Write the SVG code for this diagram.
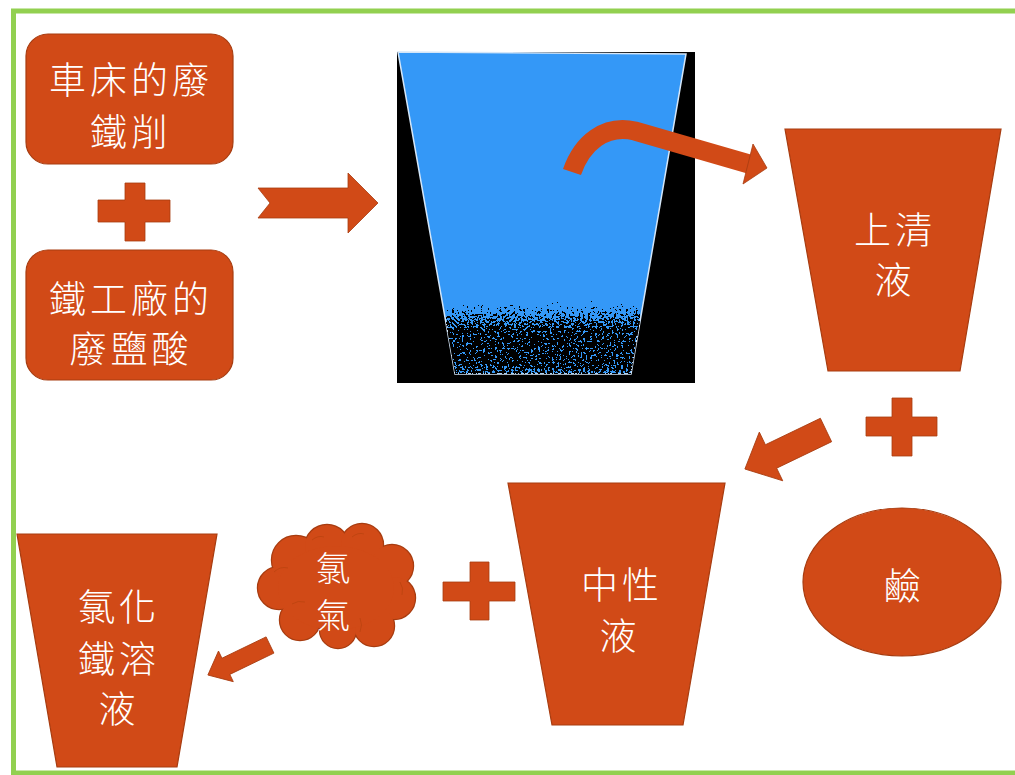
<svg xmlns="http://www.w3.org/2000/svg" width="1015" height="775" viewBox="0 0 1015 775">
  <defs>
    <style>
      .shape { fill: #D14A17; stroke: #A73C10; stroke-width: 1.2; }
      .plus { fill: #D14A17; stroke: #A73C10; stroke-width: 0.8; }
      .arrow { fill: #D14A17; stroke: #A73C10; stroke-width: 0.8; }
      .label { fill: #FFFFFF; font-family: "Noto Sans CJK TC", "Noto Sans CJK SC", sans-serif; font-size: 37px; font-weight: 300; text-anchor: middle; dominant-baseline: central; }
      .small { font-size: 34px; }
    </style>
    <linearGradient id="sedimentFade" x1="0" y1="0" x2="0" y2="1">
      <stop offset="0" stop-color="#000" stop-opacity="0"/>
      <stop offset="0.2" stop-color="#000" stop-opacity="0.55"/>
      <stop offset="0.45" stop-color="#000" stop-opacity="1"/>
      <stop offset="0.85" stop-color="#000" stop-opacity="1"/>
      <stop offset="1" stop-color="#000" stop-opacity="0.75"/>
    </linearGradient>
    <!-- grainy iron filings: thresholded noise, denser toward the bottom -->
    <filter id="grit" x="0" y="0" width="1" height="1" color-interpolation-filters="sRGB">
      <feTurbulence type="fractalNoise" baseFrequency="0.42" numOctaves="3" seed="5" result="noise"/>
      <feColorMatrix in="noise" type="matrix" values="0 0 0 0 0  0 0 0 0 0  0 0 0 0 0  1 0 0 0 0" result="noiseAlpha"/>
      <feComposite in="noiseAlpha" in2="SourceAlpha" operator="arithmetic" k1="0" k2="1" k3="0.6" k4="-0.47" result="sum"/>
      <feComponentTransfer in="sum">
        <feFuncA type="discrete" tableValues="0 1"/>
      </feComponentTransfer>
    </filter>
    <clipPath id="beakerClip">
      <polygon points="398,52 686,54 631,374 455,374"/>
    </clipPath>
    <!-- ragged upper edge of the settled filings -->
    <clipPath id="pileClip">
      <path d="M446,310 L458,300 L470,304 L482,296 L496,303 L510,299 L524,306 L540,301 L556,296 L570,292 L582,298 L596,302 L610,297 L624,301 L640,306 L640,380 L446,380 Z"/>
    </clipPath>
  </defs>

  <!-- page frame -->
  <rect x="13.5" y="11" width="1030" height="762" fill="#FFFFFF" stroke="#92D050" stroke-width="5"/>

  <!-- lathe scrap -->
  <g id="node-scrap">
    <rect class="shape" x="26" y="34" width="207" height="130" rx="22" ry="22"/>
    <text class="label" x="131" y="78" letter-spacing="4">車床的廢</text>
    <text class="label" x="131" y="130" letter-spacing="4">鐵削</text>
  </g>

  <!-- waste hydrochloric acid -->
  <g id="node-acid">
    <rect class="shape" x="26" y="250" width="207" height="130" rx="22" ry="22"/>
    <text class="label" x="131" y="297" letter-spacing="4">鐵工廠的</text>
    <text class="label" x="131" y="347" letter-spacing="4">廢鹽酸</text>
  </g>

  <!-- reaction beaker -->
  <g id="node-beaker">
    <rect x="397" y="52" width="298" height="331" fill="#000000"/>
    <polygon points="398,52 686,54 631,374 455,374" fill="#3498F7" stroke="#D4E6F8" stroke-width="1.5"/>
    <g clip-path="url(#beakerClip)">
      <g clip-path="url(#pileClip)">
        <rect x="446" y="294" width="194" height="82" fill="url(#sedimentFade)" filter="url(#grit)"/>
      </g>
    </g>
  </g>

  <!-- supernatant -->
  <g id="node-supernatant">
    <polygon class="shape" points="785,129 1001,129 960,371 828,371"/>
    <text class="label" x="895" y="228" letter-spacing="4">上清</text>
    <text class="label" x="893" y="278">液</text>
  </g>

  <!-- alkali -->
  <g id="node-alkali">
    <ellipse class="shape" cx="902" cy="582" rx="99" ry="74"/>
    <text class="label" x="902" y="584">鹼</text>
  </g>

  <!-- neutral solution -->
  <g id="node-neutral">
    <polygon class="shape" points="508,483 725,483 683,725 552,725"/>
    <text class="label" x="622" y="583" letter-spacing="4">中性</text>
    <text class="label" x="618" y="634">液</text>
  </g>

  <!-- chlorine gas -->
  <g id="node-chlorine">
    <g stroke="#A73C10" stroke-width="2.4" fill="#D14A17">
      <circle cx="279" cy="588" r="21"/>
      <circle cx="296" cy="560" r="24"/>
      <circle cx="327" cy="547" r="22"/>
      <circle cx="362" cy="545" r="21"/>
      <circle cx="392" cy="566" r="21"/>
      <circle cx="394" cy="598" r="21"/>
      <circle cx="374" cy="626" r="20"/>
      <circle cx="338" cy="630" r="18"/>
      <circle cx="300" cy="620" r="20"/>
    </g>
    <g fill="#D14A17">
      <circle cx="279" cy="588" r="21"/>
      <circle cx="296" cy="560" r="24"/>
      <circle cx="327" cy="547" r="22"/>
      <circle cx="362" cy="545" r="21"/>
      <circle cx="392" cy="566" r="21"/>
      <circle cx="394" cy="598" r="21"/>
      <circle cx="374" cy="626" r="20"/>
      <circle cx="338" cy="630" r="18"/>
      <circle cx="300" cy="620" r="20"/>
      <ellipse cx="336" cy="588" rx="58" ry="42"/>
    </g>
    <g fill="none" stroke="#B8430F" stroke-width="1" opacity="0.7">
      <path d="M274,572 Q280,566 288,568"/>
      <path d="M312,540 Q318,535 324,537"/>
      <path d="M352,537 Q358,532 364,534"/>
      <path d="M400,582 Q404,588 402,595"/>
      <path d="M360,618 Q363,625 360,632"/>
      <path d="M292,604 Q298,600 305,602"/>
    </g>
    <text class="label small" x="333" y="566">氯</text>
    <text class="label small" x="333" y="613">氣</text>
  </g>

  <!-- ferric chloride solution -->
  <g id="node-ferric">
    <polygon class="shape" points="17,534 217,534 177,767 57,767"/>
    <text class="label" x="119" y="605" letter-spacing="4">氯化</text>
    <text class="label" x="119" y="657" letter-spacing="4">鐵溶</text>
    <text class="label" x="117" y="707">液</text>
  </g>

  <!-- plus signs -->
  <g id="operators">
    <path class="plus" d="M125,183 H145 V200 H170 V222 H145 V241 H125 V222 H98 V200 H125 Z"/>
    <path class="plus" d="M892,398 H912 V417 H937 V436 H912 V456 H892 V436 H866 V417 H892 Z"/>
    <path class="plus" d="M470,562 H489 V582 H515 V601 H489 V620 H470 V601 H443 V582 H470 Z"/>
  </g>

  <!-- flow arrows -->
  <g id="connectors">
    <polygon class="arrow" points="258,188 348,188 348,173 378,203 348,233 348,218 258,218 270,203"/>
    <path d="M572,172 C582,143 605,124 635,131 L749,164" fill="none" stroke="#D14A17" stroke-width="19"/>
    <polygon class="arrow" points="767,168 753,144 743,184"/>
    <polygon class="arrow" transform="translate(826,430) rotate(154.3)" points="0,-13 61,-13 61,-27 90,0 61,27 61,13 0,13"/>
    <polygon class="arrow" transform="translate(270,645) rotate(154.2)" points="0,-9 49,-9 49,-17 69,0 49,17 49,9 0,9"/>
  </g>
</svg>
